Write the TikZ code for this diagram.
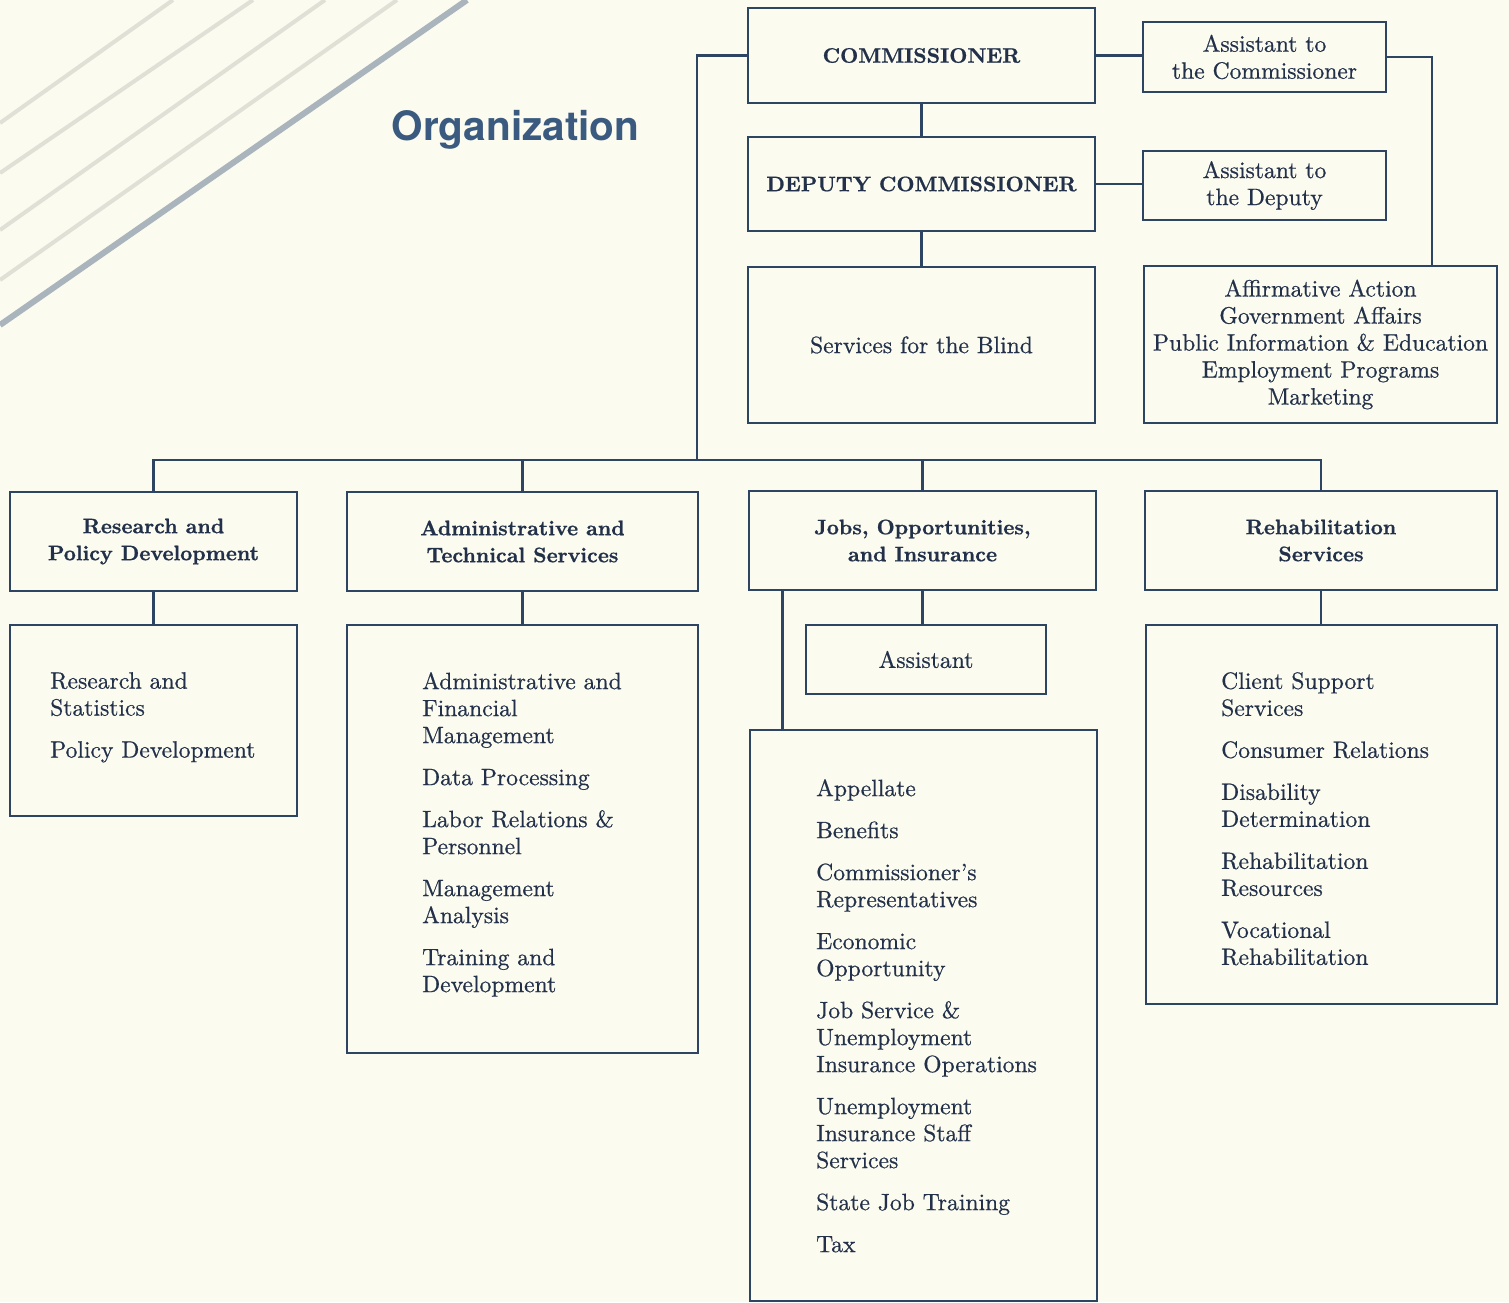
\documentclass[tikz,border=0pt]{standalone}
\usepackage{fontspec}
\setmainfont{lmroman10-regular.otf}[BoldFont=lmroman10-bold.otf, UprightFeatures={FakeBold=0.6}, BoldFeatures={FakeBold=0.8}]
\newfontfamily\titlefont{TeX Gyre Heros}
\definecolor{paper}{HTML}{FBFBEF}
\definecolor{linec}{HTML}{2E4463}
\definecolor{textc}{HTML}{22304A}
\definecolor{titlec}{HTML}{3A5A80}
\definecolor{stripe}{HTML}{E0E0D6}
\definecolor{stripedark}{HTML}{A9B4BC}
\tikzset{
  box/.style={draw=linec, line width=2.8pt, inner sep=0pt, text=textc, align=center},
  headtxt/.style={font=\fontsize{21}{27}\selectfont\bfseries},
  plaintxt/.style={font=\fontsize{23.6}{27}\selectfont},
  listtxt/.style={font=\fontsize{23.6}{27}\selectfont, text=textc, align=left, inner sep=0pt, anchor=north west},
  conn/.style={draw=linec, line width=2.5pt},
}
\begin{document}
\begin{tikzpicture}[x=1pt,y=-1pt]
\useasboundingbox (0,0) rectangle (1509,1302);
\fill[paper] (0,0) rectangle (1509,1302);
% decorative diagonal stripes
\begin{scope}
\clip (0,0) rectangle (1509,1302);
\draw[stripe, line width=4pt] (0,123) -- (173,0);
\draw[stripe, line width=4pt] (0,173) -- (253,0);
\draw[stripe, line width=4pt] (0,230) -- (325,0);
\draw[stripe, line width=4pt] (0,280) -- (397,0);
\draw[stripedark, line width=6pt] (0,325) -- (467,0);
\end{scope}
\node[text=titlec, font=\titlefont\fontsize{40.5}{44}\selectfont\bfseries] (title) at (515.5,130) {Organization};

% top boxes
\node[box, headtxt, minimum width=347, minimum height=95] (comm) at (921.5,55.5) {COMMISSIONER};
\node[box, plaintxt, minimum width=243, minimum height=70] (ac) at (1264.5,57) {Assistant to\\the Commissioner};
\node[box, headtxt, minimum width=347, minimum height=94] (dep) at (921.5,184) {DEPUTY COMMISSIONER};
\node[box, plaintxt, minimum width=243, minimum height=69] (ad) at (1264.5,185.5) {Assistant to\\the Deputy};
\node[box, plaintxt, minimum width=347, minimum height=156] (blind) at (921.5,345) {Services for the Blind};
\node[box, plaintxt, minimum width=353, minimum height=157] (affirm) at (1320.5,344.5) {Affirmative Action\\Government Affairs\\Public Information \& Education\\Employment Programs\\Marketing};

% division heads
\node[box, headtxt, minimum width=287, minimum height=99] (rpd) at (153.5,541.5) {Research and\\Policy Development};
\node[box, headtxt, minimum width=351, minimum height=99] (ats) at (522.5,541.5) {Administrative and\\Technical Services};
\node[box, headtxt, minimum width=347, minimum height=99] (joi) at (922.5,540.5) {Jobs, Opportunities,\\and Insurance};
\node[box, headtxt, minimum width=352, minimum height=99] (rehab) at (1321,540.5) {Rehabilitation\\Services};

% lower boxes
\node[box, minimum width=287, minimum height=191] (rpdl) at (153.5,720.5) {};
\node[box, minimum width=351, minimum height=428] (atsl) at (522.5,839) {};
\node[box, plaintxt, minimum width=240, minimum height=69] (asst) at (926,659.5) {Assistant};
\node[box, minimum width=347, minimum height=571] (joil) at (923.5,1015.5) {};
\node[box, minimum width=351, minimum height=379] (rehabl) at (1321.5,814.5) {};

% list texts
\node[listtxt] (rpdt) at (50,672) {Research and\\Statistics\\[15pt]Policy Development};
\node[listtxt] (atst) at (422,672) {Administrative and\\Financial\\Management\\[15pt]Data Processing\\[15pt]Labor Relations \&\\Personnel\\[15pt]Management\\Analysis\\[15pt]Training and\\Development};
\node[listtxt] (joit) at (816,779) {Appellate\\[15pt]Benefits\\[15pt]Commissioner's\\Representatives\\[15pt]Economic\\Opportunity\\[15pt]Job Service \&\\Unemployment\\Insurance Operations\\[15pt]Unemployment\\Insurance Staff\\Services\\[15pt]State Job Training\\[15pt]Tax};
\node[listtxt] (rehabt) at (1221,672) {Client Support\\Services\\[15pt]Consumer Relations\\[15pt]Disability\\Determination\\[15pt]Rehabilitation\\Resources\\[15pt]Vocational\\Rehabilitation};

% connectors
\coordinate (bus) at (697,460);
\coordinate (acturn) at (1432,57);
\draw[conn] (comm.west) -| (bus);
\draw[conn] (rpd.north) |- (bus);
\draw[conn] (ats.north) |- (bus);
\draw[conn] (joi.north) |- (bus);
\draw[conn] (rehab.north) |- (bus);
\draw[conn] (comm.south) -- (dep.north);
\draw[conn] (dep.south) -- (blind.north);
\draw[conn] (comm.east) -- (comm.east -| ac.west);
\draw[conn] (dep.east) -- (dep.east -| ad.west);
\draw[conn] (ac.east) -- (acturn) -- (acturn |- affirm.north);
\draw[conn] (rpd.south) -- (rpdl.north);
\draw[conn] (ats.south) -- (atsl.north);
\draw[conn] (joi.south) -- (joi.south |- asst.north);
\draw[conn] ([xshift=35pt]joi.south west) -- ([xshift=35pt]joi.south west |- joil.north);
\draw[conn] (rehab.south) -- (rehab.south |- rehabl.north);
\end{tikzpicture}
\end{document}
